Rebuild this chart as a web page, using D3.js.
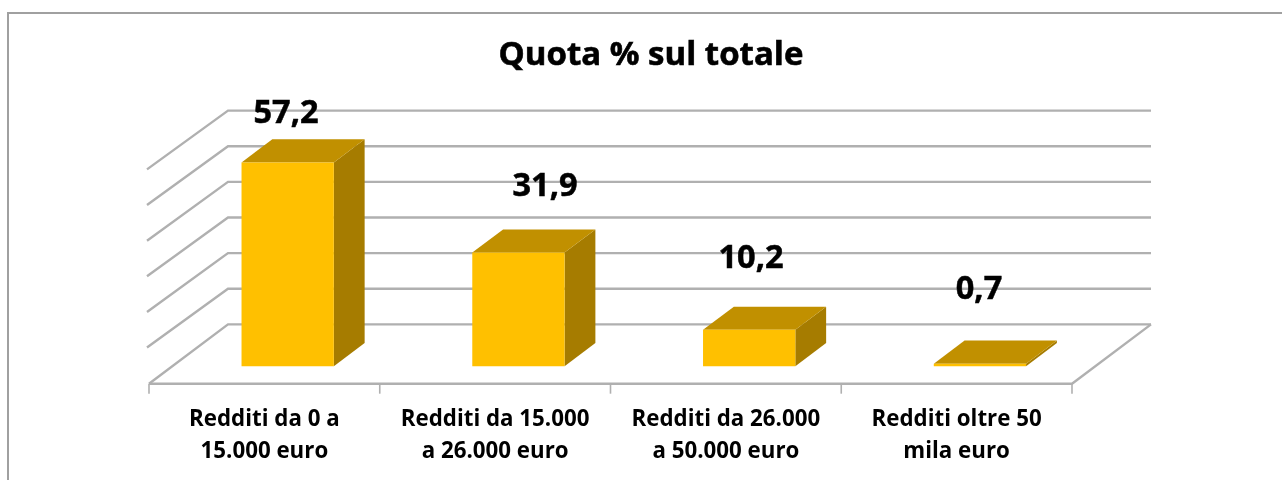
<!DOCTYPE html>
<html>
<head>
<meta charset="utf-8">
<script src="https://cdnjs.cloudflare.com/ajax/libs/d3/7.8.5/d3.min.js"></script>
<style>
  html, body { margin: 0; padding: 0; background: #fff; }
  svg { display: block; }
  text { font-family: "Open Sans", "Noto Sans", sans-serif; font-weight: 700; fill: #000; }
</style>
</head>
<body>
<svg id="chart" width="1282" height="480"></svg>
<script>
const title = 'Quota % sul totale'
const categories = ['Redditi da 0 a 15.000 euro', 'Redditi da 15.000 a 26.000 euro', 'Redditi da 26.000 a 50.000 euro', 'Redditi oltre 50 mila euro']
const categoryLines = [['Redditi da 0 a', '15.000 euro'], ['Redditi da 15.000', 'a 26.000 euro'], ['Redditi da 26.000', 'a 50.000 euro'], ['Redditi oltre 50', 'mila euro']]
const values = [57.2, 31.9, 10.2, 0.7]
const valueLabels = ['57,2', '31,9', '10,2', '0,7']
const gridValues = [0, 10, 20, 30, 40, 50, 60]

const svg = d3.select('#chart')

// the reference is a slightly soft screenshot
const defs = svg.append('defs')
defs.append('filter').attr('id', 'soft')
  .append('feGaussianBlur').attr('stdDeviation', 0.5)

const root = svg.append('g').attr('filter', 'url(#soft)')

const floorY = 383.7   // front edge of the floor
const skewX = 79       // how far the back wall is shifted from the front edge
const skewY = -59.3

const x = d3.scaleBand().domain(categories).range([149, 1072]).paddingInner(0.6).paddingOuter(0.3)
const y = d3.scaleLinear().domain([0, 60]).range([floorY, floorY - 213.8])
// depth goes 0 (front of floor) to 1 (back wall)
const project = (px, value, depth) => [px + skewX * depth, y(value) + skewY * depth]
const barFront = 0.295
const barBack = 0.685

const line = d3.line()
const gridColor = '#b0b0b0'

// chart frame, only top and left are visible in the picture
root.append('path')
  .attr('d', line([[8, 490], [8, 13], [1290, 13]]))
  .attr('fill', 'none').attr('stroke', '#a0a0a0').attr('stroke-width', 2)

// back wall gridlines and side wall lines
const grid = root.append('g').attr('fill', 'none').attr('stroke', gridColor).attr('stroke-width', 2.4)
gridValues.forEach(v => {
  const sideStart = v === 0 ? [149, floorY] : [147, y(v) - 0.5]
  grid.append('path').attr('d', line([sideStart, project(149, v, 1), project(1072, v, 1)]))
})
// floor
grid.append('path').attr('d', line([[149, floorY], [1072, floorY], project(1072, 0, 1)]))

// category ticks
root.append('g').selectAll('line')
  .data(d3.range(categories.length + 1))
  .join('line')
  .attr('x1', i => 149 + i * x.step())
  .attr('x2', i => 149 + i * x.step())
  .attr('y1', floorY).attr('y2', floorY + 10)
  .attr('stroke', gridColor).attr('stroke-width', 1.6)

// bars
const bars = root.append('g').selectAll('g')
  .data(categories.map((c, i) => ({ c, v: values[i] })))
  .join('g')

const poly = pts => line(pts) + 'Z'

bars.append('path') // right side
  .attr('fill', '#a67c00')
  .attr('d', d => {
    const r = x(d.c) + x.bandwidth()
    return poly([project(r, 0, barFront), project(r, 0, barBack), project(r, d.v, barBack), project(r, d.v, barFront)])
  })
bars.append('path') // top
  .attr('fill', '#c19000')
  .attr('d', d => {
    const l = x(d.c), r = l + x.bandwidth()
    return poly([project(l, d.v, barFront), project(r, d.v, barFront), project(r, d.v, barBack), project(l, d.v, barBack)])
  })
bars.append('path') // front
  .attr('fill', '#ffc000')
  .attr('d', d => {
    const l = x(d.c), r = l + x.bandwidth()
    return poly([project(l, 0, barFront), project(r, 0, barFront), project(r, d.v, barFront), project(l, d.v, barFront)])
  })

// data labels, placed by hand in the original so they don't sit evenly
const labelX = [286, 545, 751, 979]
const labelY = [123, 196, 268, 299]
root.append('g').selectAll('text')
  .data(valueLabels)
  .join('text')
  .attr('x', (d, i) => labelX[i])
  .attr('y', (d, i) => labelY[i])
  .attr('text-anchor', 'middle')
  .attr('font-size', 32.5)
  .attr('stroke', '#000').attr('stroke-width', 0.5)
  .text(d => d)

// category labels
const catText = root.append('g').selectAll('text')
  .data(categoryLines)
  .join('text')
  .attr('text-anchor', 'middle')
  .attr('font-size', 22.3)
  .attr('y', 426)
catText.selectAll('tspan')
  .data((d, i) => d.map(t => ({ t, i })))
  .join('tspan')
  .attr('x', d => 149 + (d.i + 0.5) * x.step())
  .attr('dy', (d, j) => j ? 32 : 0)
  .text(d => d.t)

root.append('text')
  .attr('x', 651).attr('y', 65)
  .attr('text-anchor', 'middle')
  .attr('font-size', 33)
  .attr('stroke', '#000').attr('stroke-width', 0.6)
  .text(title)
</script>
</body>
</html>
